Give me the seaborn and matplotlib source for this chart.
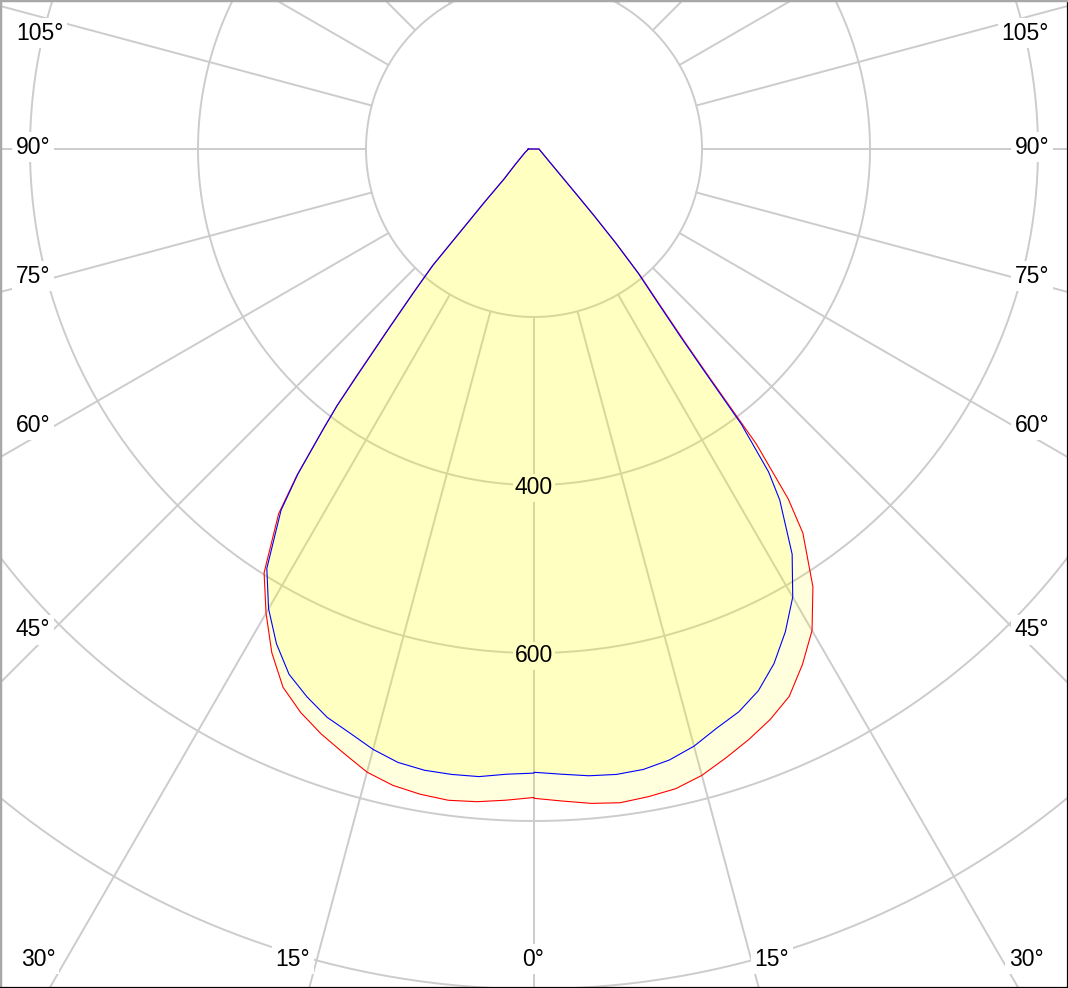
import numpy as np
import pandas as pd
import matplotlib
matplotlib.use("Agg")
import matplotlib.pyplot as plt
import seaborn as sns

# ---------- DATA (luminous intensity, cd, vs gamma angle) ----------
GAMMA = [0, 2.5, 5, 7.5, 10, 12.5, 15, 17.5, 20, 22.5, 25, 27.5, 30, 32.5, 35,
         36, 37, 37.5, 38, 39, 40, 41, 42, 43, 45, 50, 60, 70, 80, 90]

RED_RIGHT = [773, 777, 782, 785, 783, 780, 772, 760, 748, 735, 719, 692, 662, 618, 558,
             515, 440, 345, 292, 234, 197, 150, 108, 78, 49, 25, 13, 9, 7, 6]
RED_LEFT = [772, 776, 780, 782, 780, 776, 768, 754, 741, 726, 707, 676, 638, 598, 530,
            480, 415, 385, 345, 275, 225, 185, 117, 86, 50, 30, 16, 11, 8, 7]
BLUE_RIGHT = [742, 745, 749, 751, 750, 745, 736, 723, 713, 698, 676, 648, 616, 572, 510,
              475, 410, 330, 282, 228, 193, 148, 107, 77, 48, 25, 13, 9, 7, 6]
BLUE_LEFT = [743, 745, 750, 751, 751, 748, 740, 729, 720, 706, 690, 664, 632, 592, 525,
             478, 415, 385, 340, 272, 222, 183, 116, 85, 50, 30, 16, 11, 8, 7]

RINGS = [200, 400, 600, 800, 1000, 1200]
RING_LABELS = ["400", "600"]
SIDE_LABELS = ["105°", "90°", "75°", "60°", "45°"]
BOTTOM_LABELS = ["30°", "15°", "0°", "15°", "30°"]

# ---------- LAYOUT ----------
W, H = 1068, 988
CX, CY = 534, 149          # pole position in pixels
PX_PER_CD = 0.84
GRID = "#cccccc"
FILL_ALPHA = 0.13
INSIDE = "#ffffc1"         # colour where both fills overlap
FS = 16.5

sns.set_theme(style="white")
plt.rcParams["font.family"] = ["Liberation Sans", "DejaVu Sans"]

fig = plt.figure(figsize=(W / 100, H / 100), dpi=100)
ax = fig.add_axes([0, 0, 1, 1])
ax.set_xlim(-CX / PX_PER_CD, (W - CX) / PX_PER_CD)
ax.set_ylim(-(H - CY) / PX_PER_CD, CY / PX_PER_CD)
ax.set_xticks([])
ax.set_yticks([])


def curve_xy(left, right):
    g = np.radians(GAMMA)
    lx = -np.array(left) * np.sin(g)
    ly = -np.array(left) * np.cos(g)
    rx = np.array(right) * np.sin(g)
    ry = -np.array(right) * np.cos(g)
    x = np.r_[lx[::-1], rx]
    y = np.r_[ly[::-1], ry]
    # close the outline across the pole
    return np.r_[x, x[:1]], np.r_[y, y[:1]]


# grid circles
t = np.linspace(0, 2 * np.pi, 1441)
for r in RINGS:
    ax.plot(r * np.cos(t), r * np.sin(t), color=GRID, lw=1.4, zorder=1)

# radial lines every 15 deg, starting at the first ring
for a in range(0, 360, 15):
    s, c = np.sin(np.radians(a)), np.cos(np.radians(a))
    ax.plot([RINGS[0] * s, 1500 * s], [-RINGS[0] * c, -1500 * c],
            color=GRID, lw=1.4, zorder=1)


def pix(x, y):
    return x / W, 1 - y / H


box = dict(boxstyle="square,pad=0.15", fc="white", ec="none")
lab_kw = dict(fontsize=FS, color="black", ha="center", va="center",
              transform=ax.transAxes, zorder=2, bbox=box)

side_y = [33, 147, 276, 425, 630]
side_xl = [40, 33, 33, 33, 33]
side_xr = [1025, 1032, 1032, 1032, 1032]
for lab, y, xl, xr in zip(SIDE_LABELS, side_y, side_xl, side_xr):
    ax.text(*pix(xl, y), lab, **lab_kw)
    ax.text(*pix(xr, y), lab, **lab_kw)

for lab, x in zip(BOTTOM_LABELS, [38, 293, 533, 772, 1026]):
    ax.text(*pix(x, 959), lab, **lab_kw)

for lab in RING_LABELS:
    v = float(lab)
    ax.text(0, -v - 3 / PX_PER_CD, lab, fontsize=FS, color="black",
            ha="center", va="center", zorder=5,
            bbox=dict(boxstyle="square,pad=0.1", fc=INSIDE, ec="none"))

# curves
rx, ry = curve_xy(RED_LEFT, RED_RIGHT)
bx, by = curve_xy(BLUE_LEFT, BLUE_RIGHT)
df = pd.concat([
    pd.DataFrame({"x": rx, "y": ry, "plane": "C0-C180"}),
    pd.DataFrame({"x": bx, "y": by, "plane": "C90-C270"}),
], ignore_index=True)

for plane, sub in df.groupby("plane"):
    ax.fill(sub["x"], sub["y"], color="#ffff00", alpha=FILL_ALPHA, lw=0, zorder=3)

sns.lineplot(data=df, x="x", y="y", hue="plane", sort=False, estimator=None,
             palette={"C0-C180": "#ff0000", "C90-C270": "#0000ff"},
             lw=0.8, legend=False, ax=ax, zorder=4)
ax.set_xlabel("")
ax.set_ylabel("")

# frame
for side in ["top", "left"]:
    ax.spines[side].set_color("#a8a8a8")
    ax.spines[side].set_linewidth(2.5)
for side in ["bottom", "right"]:
    ax.spines[side].set_color("black")
    ax.spines[side].set_linewidth(1.6)
for sp in ax.spines.values():
    sp.set_visible(True)
    sp.set_zorder(10)

fig.savefig("out.png", dpi=100)
